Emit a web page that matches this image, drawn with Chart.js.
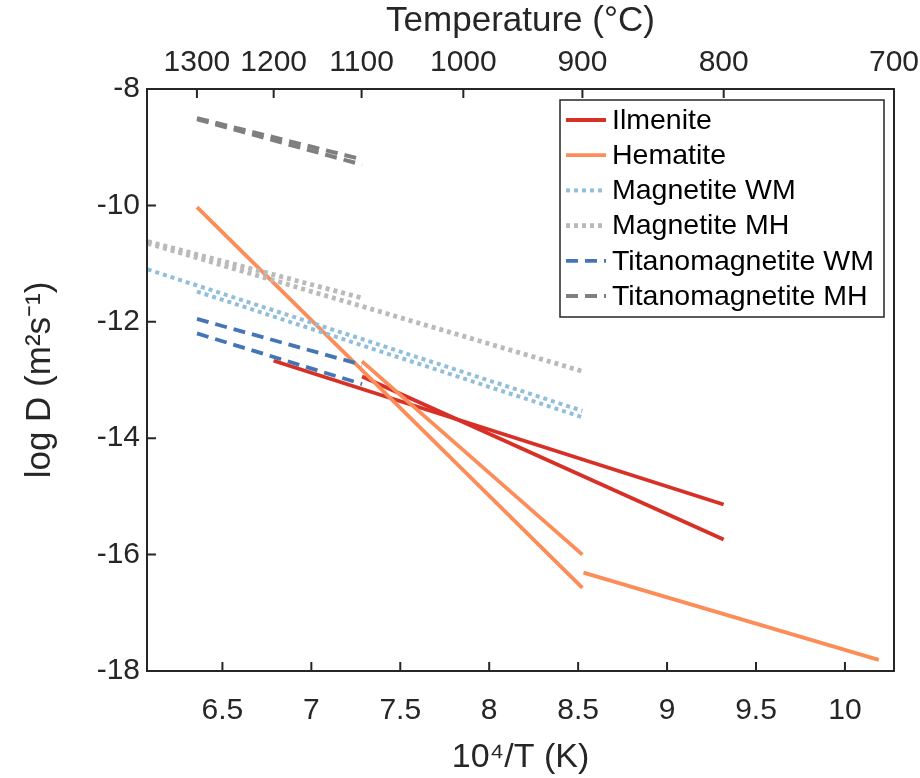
<!DOCTYPE html>
<html>
<head>
<meta charset="utf-8">
<script src="https://cdn.jsdelivr.net/npm/chart.js@4.4.0/dist/chart.umd.min.js"></script>
<style>
html,body{margin:0;padding:0;background:#fff;}
canvas{display:block;}
</style>
</head>
<body>
<canvas id="c" width="920" height="778"></canvas>
<script>
// ---------- data ----------
const seriesNames = ['Ilmenite', 'Hematite', 'Magnetite WM', 'Magnetite MH', 'Titanomagnetite WM', 'Titanomagnetite MH'];

// each series is a set of straight segments: x = 10^4/T (K), y = log D
const ilmeniteX = [[6.788, 9.318], [7.285, 9.318]];
const ilmeniteY = [[-12.67, -15.14], [-12.94, -15.74]];

const hematiteX = [[6.357, 8.524], [7.285, 8.524], [8.53, 10.19]];
const hematiteY = [[-10.03, -16.57], [-12.68, -16.00], [-16.31, -17.81]];

const magnetiteWMX = [[6.08, 8.524], [6.357, 8.524]];
const magnetiteWMY = [[-11.10, -13.53], [-11.48, -13.64]];

const magnetiteMHX = [[6.08, 8.524], [6.08, 7.285]];
const magnetiteMHY = [[-10.65, -12.85], [-10.62, -11.59]];

const titanoWMX = [[6.357, 7.285], [6.357, 7.285]];
const titanoWMY = [[-11.95, -12.74], [-12.20, -13.07]];

const titanoMHX = [[6.357, 7.285], [6.357, 7.285]];
const titanoMHY = [[-8.50, -9.21], [-8.52, -9.30]];

const xTickValues = [6.5, 7, 7.5, 8, 8.5, 9, 9.5, 10];
const yTickValues = [-8, -10, -12, -14, -16, -18];
const tempTickLabelsC = [1300, 1200, 1100, 1000, 900, 800, 700];

// ---------- styles ----------
const styles = [
  {color: '#d73027', width: 3.8, dash: []},
  {color: '#fc8d59', width: 3.8, dash: []},
  {color: '#91bfdb', width: 4, dash: [4, 4]},
  {color: '#bababa', width: 4.8, dash: [4, 4]},
  {color: '#4575b4', width: 3.8, dash: [12, 7]},
  {color: '#7f7f7f', width: 4, dash: [12, 7]}
];
const seriesXs = [ilmeniteX, hematiteX, magnetiteWMX, magnetiteMHX, titanoWMX, titanoMHX];
const seriesYs = [ilmeniteY, hematiteY, magnetiteWMY, magnetiteMHY, titanoWMY, titanoMHY];

const FONT = "'Liberation Sans', Arial, Helvetica, sans-serif";
const TXT = '#262626';

const datasets = [];
seriesNames.forEach((name, si) => {
  seriesXs[si].forEach((xs, k) => {
    const ys = seriesYs[si][k];
    datasets.push({
      label: name,
      data: xs.map((x, i) => ({x: x, y: ys[i]})),
      borderColor: styles[si].color,
      backgroundColor: styles[si].color,
      borderWidth: styles[si].width,
      borderDash: styles[si].dash,
      borderCapStyle: 'butt',
      pointRadius: 0,
      pointHoverRadius: 0,
      fill: false,
      tension: 0,
      order: -si
    });
  });
});

const xMin = 6.076, xMax = 1e4 / (700 + 273.15);

const framePlugin = {
  id: 'frame',
  afterDatasetsDraw(chart) {
    const {ctx, chartArea: a, scales} = chart;
    ctx.save();
    ctx.strokeStyle = TXT;
    ctx.lineWidth = 2;
    ctx.setLineDash([]);
    ctx.beginPath();
    const TL = 9;
    scales.x.ticks.forEach(t => {
      const px = scales.x.getPixelForValue(t.value);
      ctx.moveTo(px, a.bottom); ctx.lineTo(px, a.bottom - TL);
    });
    scales.x2.ticks.forEach(t => {
      const px = scales.x2.getPixelForValue(t.value);
      ctx.moveTo(px, a.top); ctx.lineTo(px, a.top + TL);
    });
    scales.y.ticks.forEach(t => {
      const py = scales.y.getPixelForValue(t.value);
      ctx.moveTo(a.left, py); ctx.lineTo(a.left + TL, py);
    });
    ctx.stroke();
    ctx.strokeRect(a.left, a.top, a.right - a.left, a.bottom - a.top);

    // legend
    const bw = 324, bh = 217;
    const bx = a.right - 10 - bw, by = a.top + 11;
    ctx.fillStyle = '#fff';
    ctx.fillRect(bx, by, bw, bh);
    ctx.lineWidth = 1.5;
    ctx.strokeRect(bx, by, bw, bh);
    ctx.font = '28.5px ' + FONT;
    ctx.textBaseline = 'middle';
    ctx.textAlign = 'left';
    seriesNames.forEach((name, i) => {
      const cy = by + 20 + i * 35.2;
      ctx.save();
      ctx.strokeStyle = styles[i].color;
      ctx.lineWidth = styles[i].width;
      ctx.setLineDash(styles[i].dash);
      ctx.beginPath();
      ctx.moveTo(bx + 6, cy); ctx.lineTo(bx + 46, cy);
      ctx.stroke();
      ctx.restore();
      ctx.fillStyle = '#000';
      ctx.fillText(name, bx + 52, cy + 1);
    });
    ctx.restore();
  }
};

function noSidePad(s) { s.paddingLeft = 0; s.paddingRight = 0; }

new Chart(document.getElementById('c'), {
  type: 'line',
  data: {datasets: datasets},
  options: {
    responsive: false,
    animation: false,
    events: [],
    layout: {padding: {left: 0, right: 26, top: 0, bottom: 0}},
    plugins: {legend: {display: false}, tooltip: {enabled: false}},
    scales: {
      x: {
        type: 'linear', position: 'bottom', min: xMin, max: xMax,
        afterBuildTicks: s => { s.ticks = xTickValues.map(v => ({value: v})); },
        afterFit: s => { s.height = 107; noSidePad(s); },
        grid: {display: false, drawTicks: false},
        border: {display: false},
        ticks: {color: TXT, font: {family: FONT, size: 30}, padding: 22, maxRotation: 0, autoSkip: false,
          callback: v => String(v)},
        title: {display: true, text: '10\u2074/T (K)', color: TXT, font: {family: FONT, size: 34}, padding: {top: 8, bottom: 0}}
      },
      x2: {
        type: 'linear', position: 'top', min: xMin, max: xMax,
        afterBuildTicks: s => { s.ticks = tempTickLabelsC.map(c => ({value: 1e4 / (c + 273.15)})); },
        afterFit: s => { s.height = 89; noSidePad(s); },
        grid: {display: false, drawTicks: false},
        border: {display: false},
        ticks: {color: TXT, font: {family: FONT, size: 30}, padding: 8, maxRotation: 0, autoSkip: false,
          callback: v => String(Math.round(1e4 / v - 273.15))},
        title: {display: true, text: 'Temperature (\u00B0C)', color: TXT, font: {family: FONT, size: 35}, padding: {top: 0, bottom: 0}}
      },
      y: {
        type: 'linear', position: 'left', min: -18, max: -8,
        afterBuildTicks: s => { s.ticks = yTickValues.map(v => ({value: v})); },
        afterFit: s => { s.width = 147; },
        grid: {display: false, drawTicks: false},
        border: {display: false},
        ticks: {color: TXT, font: {family: FONT, size: 30}, padding: 7},
        title: {display: true, text: 'log D (m\u00B2s\u207B\u00B9)', color: TXT, font: {family: FONT, size: 35}, padding: {top: 19, bottom: 0}}
      }
    }
  },
  plugins: [framePlugin]
});
</script>
</body>
</html>
